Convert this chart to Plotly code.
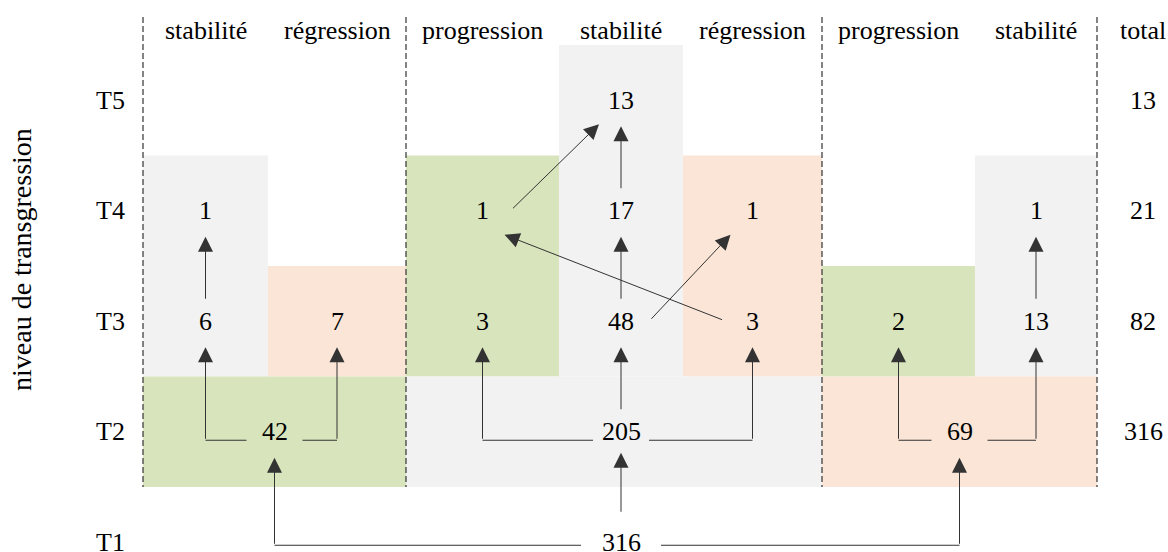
import plotly.graph_objects as go

# --- data ---
rows = ["T1", "T2", "T3", "T4", "T5"]
sub_cols = ["stabilité", "régression", "progression", "stabilité", "régression", "progression", "stabilité"]
# values of the T3..T5 cells, one dict per sub-column
col_values = [
    {"T3": 6, "T4": 1},
    {"T3": 7},
    {"T3": 3, "T4": 1},
    {"T3": 48, "T4": 17, "T5": 13},
    {"T3": 3, "T4": 1},
    {"T3": 2},
    {"T3": 13, "T4": 1},
]
t2_groups = ["progression", "stabilité", "régression"]
t2_values = [42, 205, 69]
t1_value = 316
totals = {"T5": 13, "T4": 21, "T3": 82, "T2": 316}

# flows: ("t1",) / ("g", group) / ("c", col, row)
flows = [
    (("t1",), ("g", 0)), (("t1",), ("g", 1)), (("t1",), ("g", 2)),
    (("g", 0), ("c", 0, "T3")), (("g", 0), ("c", 1, "T3")),
    (("g", 1), ("c", 2, "T3")), (("g", 1), ("c", 3, "T3")), (("g", 1), ("c", 4, "T3")),
    (("g", 2), ("c", 5, "T3")), (("g", 2), ("c", 6, "T3")),
    (("c", 0, "T3"), ("c", 0, "T4")),
    (("c", 3, "T3"), ("c", 3, "T4")),
    (("c", 3, "T3"), ("c", 4, "T4")),
    (("c", 4, "T3"), ("c", 2, "T4")),
    (("c", 6, "T3"), ("c", 6, "T4")),
    (("c", 3, "T4"), ("c", 3, "T5")),
    (("c", 2, "T4"), ("c", 3, "T5")),
]

# --- layout ---
W, H = 1168, 552
col_edges = [143, 268, 406, 559, 683, 822, 975, 1097]
group_span = [(0, 2), (2, 5), (5, 7)]
group_anchor = [None, 3, None]   # column used to place the T2 value (None = group centre)
row_top = 45
row_h = 110.5
header_y = 30
total_x = 1143
label_x = 110
font = "Liberation Serif, Times New Roman, serif"
fs = 26
colors = {"stabilité": "#f2f2f2", "progression": "#d8e4bc", "régression": "#fbe5d6"}
line_col = "#333333"


def row_y(r):
    return row_top + row_h * (len(rows) - 1 - rows.index(r)) + row_h / 2


def col_x(i):
    return (col_edges[i] + col_edges[i + 1]) / 2


def group_x(g):
    if group_anchor[g] is not None:
        return col_x(group_anchor[g])
    a, b = group_span[g]
    return (col_edges[a] + col_edges[b]) / 2


def node_pos(n):
    if n[0] == "t1":
        return col_x(3), row_y("T1")
    if n[0] == "g":
        return group_x(n[1]), row_y("T2")
    return col_x(n[1]), row_y(n[2])


fig = go.Figure()
shapes = []
ann = []

# coloured boxes
for i, vals in enumerate(col_values):
    top_row = max(vals, key=rows.index)
    shapes.append(dict(type="rect", layer="below", line_width=0, fillcolor=colors[sub_cols[i]],
                       x0=col_edges[i], x1=col_edges[i + 1],
                       y0=row_y(top_row) - row_h / 2, y1=row_y("T3") + row_h / 2))
for g, (a, b) in enumerate(group_span):
    shapes.append(dict(type="rect", layer="below", line_width=0, fillcolor=colors[t2_groups[g]],
                       x0=col_edges[a], x1=col_edges[b],
                       y0=row_y("T2") - row_h / 2, y1=row_y("T2") + row_h / 2))

# dashed separators
for xe in [col_edges[0], col_edges[2], col_edges[5], col_edges[7]]:
    shapes.append(dict(type="line", x0=xe, x1=xe, y0=17, y1=row_y("T2") + row_h / 2,
                       line=dict(color="#333333", width=1.2, dash="6px,3px")))


def txt(x, y, s, **kw):
    ann.append(dict(x=x, y=y, text=str(s), showarrow=False, xref="x", yref="y",
                    font=dict(family=font, size=fs, color="black"), **kw))


# headers
for i, name in enumerate(sub_cols):
    txt(col_x(i), header_y, name)
txt(total_x, header_y, "total")

# row labels
for r in rows:
    txt(label_x, row_y(r), r)

# values
for i, vals in enumerate(col_values):
    for r, v in vals.items():
        txt(col_x(i), row_y(r), v)
for g, v in enumerate(t2_values):
    txt(group_x(g), row_y("T2"), v)
txt(col_x(3), row_y("T1"), t1_value)
for r, v in totals.items():
    txt(total_x, row_y(r), v)


def arrow(x0, y0, x1, y1):
    ann.append(dict(x=x1, y=y1, ax=x0, ay=y0, xref="x", yref="y", axref="x", ayref="y",
                    text="", showarrow=True, arrowhead=2, arrowsize=3, arrowwidth=1,
                    arrowcolor=line_col, standoff=0, startstandoff=0))


gap = {"t1": 40, "g": 28}
line_off = {"t1": 3, "g": 8.5}
for src, dst in flows:
    sx, sy = node_pos(src)
    tx, ty = node_pos(dst)
    if abs(sx - tx) < 1:
        arrow(sx, sy - (29 if src[0] == "t1" else 21), tx, ty + (21 if src[0] == "t1" else 26))
    elif src[0] in ("t1", "g"):
        ly = sy + line_off[src[0]]
        sgn = 1 if tx > sx else -1
        shapes.append(dict(type="line", x0=sx + sgn * gap[src[0]], x1=tx, y0=ly, y1=ly,
                           line=dict(color=line_col, width=1)))
        arrow(tx, ly, tx, ty + 26)
    else:
        sgn = 1 if tx > sx else -1
        arrow(sx + sgn * 29, sy - 1, tx - sgn * 22, ty + 24)

# y axis title
ann.append(dict(x=21, y=260, xref="x", yref="y", text="niveau de transgression", textangle=-90,
                showarrow=False, font=dict(family=font, size=28, color="black")))

fig.update_layout(
    width=W, height=H, margin=dict(l=0, r=0, t=0, b=0),
    paper_bgcolor="white", plot_bgcolor="white", showlegend=False,
    xaxis=dict(range=[0, W], visible=False, fixedrange=True),
    yaxis=dict(range=[H, 0], visible=False, fixedrange=True),
    shapes=shapes, annotations=ann,
)

fig.write_html("out.html", config={"displayModeBar": False},
               post_script="document.body.style.margin='0';")
